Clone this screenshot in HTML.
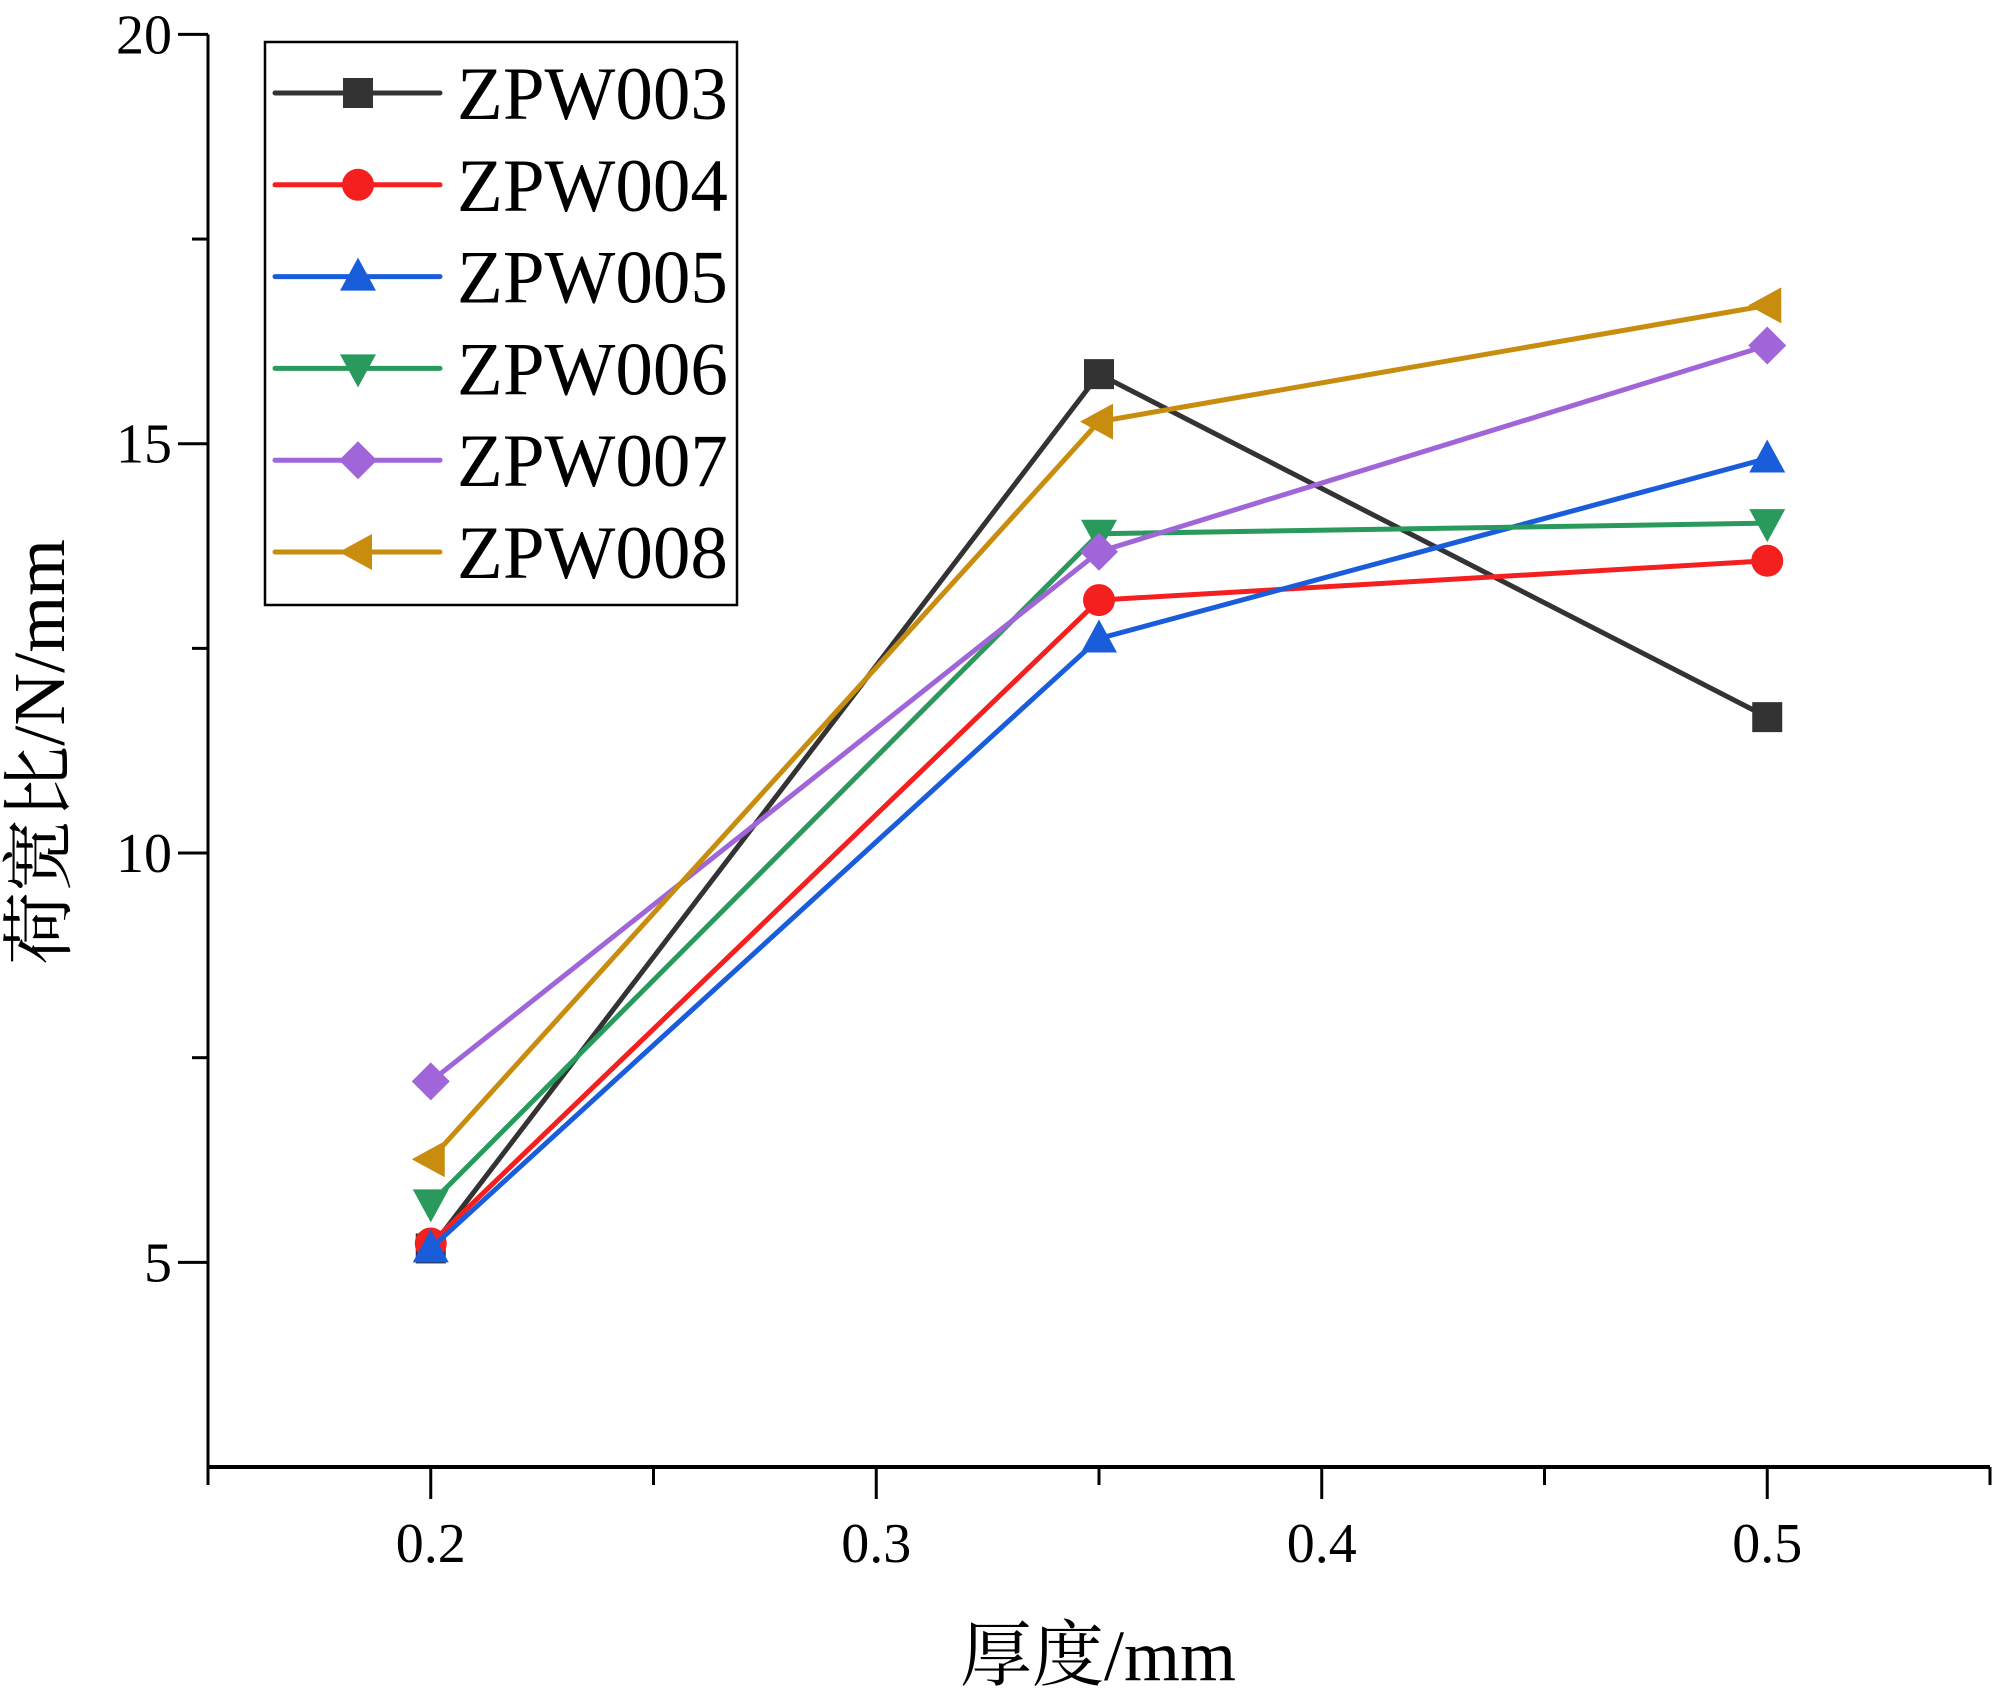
<!DOCTYPE html>
<html><head><meta charset="utf-8"><style>
html,body{margin:0;padding:0;background:#fff;}
svg{display:block;}
text{font-family:"Liberation Serif","Noto Serif CJK SC",serif;fill:#000;}
</style></head><body>
<svg id="chart" width="2000" height="1696" viewBox="0 0 2000 1696" xmlns="http://www.w3.org/2000/svg">
<g id="axes"></g>
<g id="series"></g>
<g id="legend"></g>
<text x="1098" y="1680" font-size="72" text-anchor="middle">厚度/mm</text>
<text transform="translate(64,752) rotate(-90)" font-size="73" text-anchor="middle">荷宽比/N/mm</text>
</svg>
<script>
const xCategories = [0.2, 0.35, 0.5];
const seriesNames = ["ZPW003","ZPW004","ZPW005","ZPW006","ZPW007","ZPW008"];
const zpw003 = [5.17, 15.85, 11.66];
const zpw004 = [5.23, 13.09, 13.57];
const zpw005 = [5.17, 12.62, 14.82];
const zpw006 = [5.72, 13.90, 14.03];
const zpw007 = [7.21, 13.68, 16.20];
const zpw008 = [6.26, 15.27, 16.69];
const xTicks = [0.2, 0.3, 0.4, 0.5];
const xTickLabels = ["0.2","0.3","0.4","0.5"];
const yTicks = [5, 10, 15, 20];
const yTickLabels = ["5","10","15","20"];

const NS = "http://www.w3.org/2000/svg";
const L = 208, R = 1990, T = 34.4, B = 1467;
const xMin = 0.15, xMax = 0.55, yMin = 2.5, yMax = 20;
function sx(v){ return L + (v - xMin) / (xMax - xMin) * (R - L); }
function sy(v){ return B - (v - yMin) / (yMax - yMin) * (B - T); }
function mk(tag, attrs, parent){ const e = document.createElementNS(NS, tag); for (const k in attrs) e.setAttribute(k, attrs[k]); parent.appendChild(e); return e; }

const axes = document.getElementById('axes');
let e;
e = mk('line', {x1:L, y1:B, x2:R, y2:B, stroke:'#000', 'stroke-width':4}, axes);


e = mk('line', {x1:L, y1:B+2, x2:L, y2:T, stroke:'#000', 'stroke-width':3}, axes);


for (let v = 0.15; v <= 0.5501; v += 0.05) {
  const major = Math.abs(Math.round(v*10) - v*10) < 1e-6;
  e = mk('line', {x1:sx(v), y1:B, x2:sx(v), y2:B + (major ? 32 : 18), stroke:'#000', 'stroke-width':3}, axes);
  
  
}
xTicks.forEach((v, i) => {
  e = mk('text', {x:sx(v), y:1562, 'font-size':56, 'text-anchor':'middle'}, axes);
  e.textContent = xTickLabels[i];
  
  
});
for (let v = 5; v <= 20; v += 2.5) {
  const major = v % 5 === 0;
  e = mk('line', {x1:L - (major ? 30 : 16), y1:sy(v), x2:L, y2:sy(v), stroke:'#000', 'stroke-width':3}, axes);
  
  
}
yTicks.forEach((v, i) => {
  e = mk('text', {x:172, y:sy(v) + 19, 'font-size':56, 'text-anchor':'end'}, axes);
  e.textContent = yTickLabels[i];
  
  
});

const allSeries = [zpw003, zpw004, zpw005, zpw006, zpw007, zpw008];
const colors = ['#333333','#f42020','#1a5ddb','#2a9a5c','#a066d9','#c88c0e'];
const shapes = ['square','circle','up','down','diamond','left'];
function marker(g, shape, cx, cy, color){
  const s = 16; let m;
  if (shape === 'square') m = mk('rect', {x:cx-s+1, y:cy-s+1, width:2*s-2, height:2*s-2, fill:color}, g);
  else if (shape === 'circle') m = mk('circle', {cx:cx, cy:cy, r:s, fill:color}, g);
  else if (shape === 'up') m = mk('polygon', {points:`${cx},${cy-s-3} ${cx+s+2},${cy+s-2} ${cx-s-2},${cy+s-2}`, fill:color}, g);
  else if (shape === 'down') m = mk('polygon', {points:`${cx},${cy+s+3} ${cx+s+2},${cy-s+2} ${cx-s-2},${cy-s+2}`, fill:color}, g);
  else if (shape === 'diamond') m = mk('polygon', {points:`${cx},${cy-s-3} ${cx+s+3},${cy} ${cx},${cy+s+3} ${cx-s-3},${cy}`, fill:color}, g);
  else m = mk('polygon', {points:`${cx-s-3},${cy} ${cx+s-2},${cy-s-2} ${cx+s-2},${cy+s+2}`, fill:color}, g);
  return m;
}
const sg = document.getElementById('series');
allSeries.forEach((vals, si) => {
  const g = mk('g', {}, sg);
  
  
  const pts = vals.map((v, i) => sx(xCategories[i]) + ',' + sy(v)).join(' ');
  const pl = mk('polyline', {points:pts, fill:'none', stroke:colors[si], 'stroke-width':5, 'stroke-linejoin':'round'}, g);
  
  
  vals.forEach((v, i) => {
    const m = marker(g, shapes[si], sx(xCategories[i]), sy(v), colors[si]);
    
    
  });
});

const lg = document.getElementById('legend');
e = mk('rect', {x:265, y:42, width:472, height:563, fill:'#fff', stroke:'#000', 'stroke-width':2.5}, lg);


seriesNames.forEach((n, i) => {
  const y = 93 + i * 91.8;
  const g = mk('g', {}, lg);
  
  
  mk('line', {x1:275, y1:y, x2:440, y2:y, stroke:colors[i], 'stroke-width':5, 'stroke-linecap':'round'}, g);
  marker(g, shapes[i], 358, y, colors[i]);
  const t = mk('text', {x:457, y:y + 26, 'font-size':75}, g);
  t.textContent = n;
});
</script>
</body></html>
